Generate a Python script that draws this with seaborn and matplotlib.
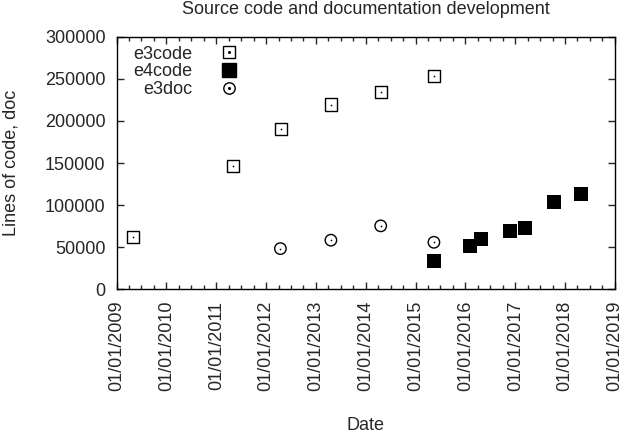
import matplotlib
matplotlib.use("Agg")
import matplotlib.pyplot as plt
import matplotlib.dates as mdates
from matplotlib.lines import Line2D
from matplotlib.legend_handler import HandlerTuple
import seaborn as sns
import pandas as pd

# ---- data ----
e3code_dates = ["2009-05-01", "2011-05-01", "2012-04-22", "2013-04-20", "2014-04-20", "2015-05-15"]
e3code_lines = [62500, 146000, 190500, 219500, 234000, 253500]

e4code_dates = ["2015-05-15", "2016-02-06", "2016-04-27", "2016-11-24", "2017-03-14", "2017-10-08", "2018-04-27"]
e4code_lines = [34000, 52000, 60000, 69500, 73000, 104000, 113500]

e3doc_dates = ["2012-04-15", "2013-04-20", "2014-04-20", "2015-05-15"]
e3doc_lines = [48500, 58500, 75500, 56000]

y_ticks = [0, 50000, 100000, 150000, 200000, 250000, 300000]

sns.set_style("ticks")
plt.rcParams["font.family"] = ["Liberation Sans", "DejaVu Sans"]
FS = 13

e3code = pd.DataFrame({"date": pd.to_datetime(e3code_dates), "lines": e3code_lines})
e4code = pd.DataFrame({"date": pd.to_datetime(e4code_dates), "lines": e4code_lines})
e3doc = pd.DataFrame({"date": pd.to_datetime(e3doc_dates), "lines": e3doc_lines})

fig = plt.figure(figsize=(6.23, 4.34), dpi=100)
ax = fig.add_axes([0.1873, 0.333, 0.7998, 0.5825])

# e3code: open square with a dot in the middle
sns.scatterplot(data=e3code, x="date", y="lines", ax=ax, marker="s", s=75,
                facecolor="none", edgecolor="black", linewidth=1.0, zorder=3)
sns.scatterplot(data=e3code, x="date", y="lines", ax=ax, marker="o", s=1.5,
                color="black", linewidth=0, zorder=4)
# e4code: filled square
sns.scatterplot(data=e4code, x="date", y="lines", ax=ax, marker="s", s=110,
                color="black", linewidth=0, zorder=3)
# e3doc: open circle with a dot
sns.scatterplot(data=e3doc, x="date", y="lines", ax=ax, marker="o", s=68,
                facecolor="none", edgecolor="black", linewidth=1.0, zorder=3)
sns.scatterplot(data=e3doc, x="date", y="lines", ax=ax, marker="o", s=1.5,
                color="black", linewidth=0, zorder=4)

ax.set_xlim(pd.Timestamp("2009-01-01"), pd.Timestamp("2019-01-01"))
ax.set_ylim(0, 300000)
ax.set_yticks(y_ticks)
ax.xaxis.set_major_locator(mdates.YearLocator())
ax.xaxis.set_minor_locator(mdates.MonthLocator(bymonth=[4, 7, 10]))
ax.xaxis.set_major_formatter(mdates.DateFormatter("%d/%m/%Y"))
ax.tick_params(axis="x", which="major", rotation=90, direction="in", top=True,
               length=5, width=1, pad=8, labelsize=FS)
ax.tick_params(axis="x", which="minor", direction="in", top=True, length=3, width=1)
ax.tick_params(axis="y", direction="in", right=True, length=5, width=1, pad=8, labelsize=FS)
for sp in ax.spines.values():
    sp.set_visible(True)
    sp.set_linewidth(1.0)
    sp.set_color("black")

ax.set_xlabel("")
ax.set_ylabel("")
fig.text(0.587, 1 - 425 / 434, "Date", ha="center", va="center", fontsize=FS)
fig.text(11 / 623, 1 - 163 / 434, "Lines of code, doc", ha="center", va="center",
         rotation=90, fontsize=FS)
fig.text(0.587, 1 - 10 / 434, "Source code and documentation development",
         ha="center", va="center", fontsize=FS)

# legend: text on the left, right aligned, symbol on the right
dot = Line2D([], [], marker="o", ms=1.2, color="black", ls="none")
h_e3code = (Line2D([], [], marker="s", ms=8.6, mfc="none", mec="black", mew=1.0, ls="none"), dot)
h_e4code = Line2D([], [], marker="s", ms=10.5, color="black", ls="none")
h_e3doc = (Line2D([], [], marker="o", ms=8.2, mfc="none", mec="black", mew=1.0, ls="none"), dot)
ax.legend(handles=[h_e3code, h_e4code, h_e3doc], labels=["e3code", "e4code", "e3doc"],
          handler_map={tuple: HandlerTuple(ndivide=1, pad=0)}, numpoints=1,
          markerfirst=False, frameon=False, loc="upper right",
          bbox_to_anchor=(0.243, 0.965), borderpad=0, borderaxespad=0,
          labelspacing=0.05, handlelength=1.0, handletextpad=1.5, fontsize=FS)

fig.savefig("out.png", dpi=100)
